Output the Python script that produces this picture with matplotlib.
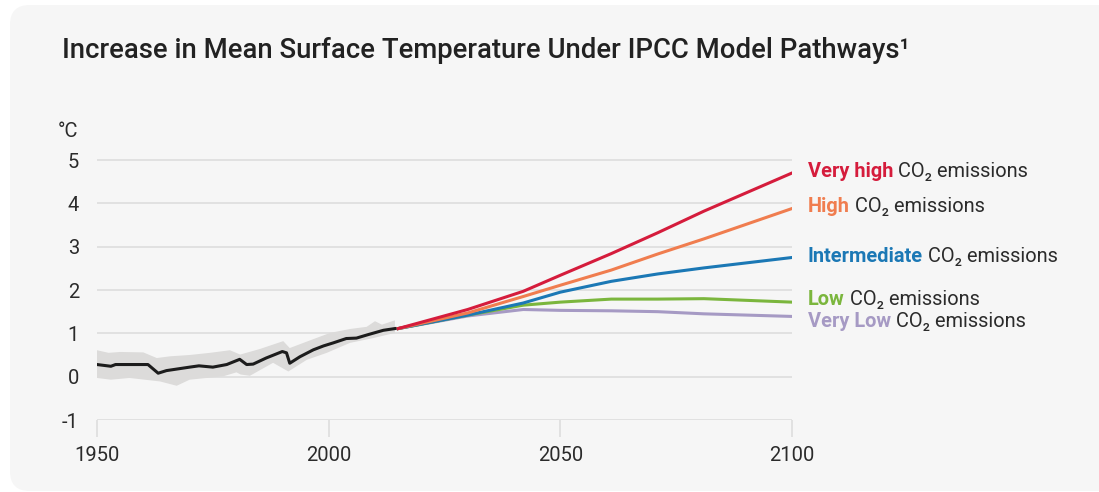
import matplotlib.pyplot as plt
from matplotlib.patches import FancyBboxPatch
import numpy as np

# Observed record (annual mean anomaly, °C)
hist_years = [1950, 1953, 1954, 1961, 1963.2, 1965, 1970, 1972, 1975, 1978,
              1980.8, 1982.3, 1983.7, 1986.5, 1990, 1990.9, 1991.6, 1993.8,
              1996.7, 1998.9, 2001, 2003.8, 2006, 2008.5, 2011.8, 2014.3]
hist_temp = [0.28, 0.24, 0.28, 0.28, 0.08, 0.14, 0.22, 0.25, 0.22, 0.28,
             0.40, 0.28, 0.29, 0.43, 0.58, 0.55, 0.31, 0.46,
             0.62, 0.71, 0.78, 0.88, 0.89, 0.97, 1.07, 1.11]

# Uncertainty envelope around the observed record
band_up_years = [1950, 1952.5, 1955, 1960, 1962.9, 1965.8, 1970, 1974.4, 1978.7,
                 1980.9, 1985.2, 1990.2, 1991.6, 1995.3, 2000.3, 2004.6, 2008.2,
                 2010, 2011.5, 2014.3]
band_up = [0.61, 0.55, 0.57, 0.56, 0.43, 0.47, 0.50, 0.55, 0.61,
           0.51, 0.64, 0.82, 0.66, 0.81, 1.01, 1.10, 1.15,
           1.28, 1.20, 1.30]
band_low_years = [1950, 1953, 1957, 1963.6, 1967.2, 1970, 1977.3, 1980.1, 1981,
                  1983, 1988, 1991.3, 1995.3, 1999.6, 2004.6, 2009.6, 2014.3]
band_low = [-0.03, -0.07, -0.03, -0.11, -0.21, -0.07, 0.01, 0.10, 0.05,
            0.02, 0.32, 0.12, 0.39, 0.55, 0.78, 0.89, 1.01]

# Model pathways
proj_years = [2015, 2030, 2042, 2050, 2061, 2071, 2081, 2100]
very_high = [1.11, 1.55, 1.97, 2.34, 2.84, 3.32, 3.82, 4.70]
high = [1.11, 1.47, 1.85, 2.11, 2.46, 2.83, 3.18, 3.88]
intermediate = [1.11, 1.42, 1.70, 1.95, 2.20, 2.37, 2.51, 2.75]
low = [1.11, 1.42, 1.65, 1.72, 1.79, 1.79, 1.80, 1.72]
very_low = [1.11, 1.40, 1.55, 1.53, 1.52, 1.50, 1.45, 1.39]

scenario_names = ["Very high", "High", "Intermediate", "Low", "Very Low"]
scenario_data = [very_high, high, intermediate, low, very_low]
scenario_colors = ["#d51c3c", "#f07d4f", "#1b78b5", "#7bb63d", "#a69ac4"]
label_y = [4.73, 3.93, 2.77, 1.78, 1.27]

plt.rcParams["font.family"] = ["Roboto", "DejaVu Sans"]
TEXT = "#2b2b2b"

fig = plt.figure(figsize=(10.99, 4.92), dpi=100)
fig.patch.set_facecolor("white")
panel = FancyBboxPatch((10 / 1099, 1 / 492), 1.2, 486 / 492,
                       boxstyle="round,pad=0,rounding_size=0.018",
                       transform=fig.transFigure, facecolor="#f6f6f6",
                       edgecolor="none", mutation_aspect=1099 / 492, zorder=-10)
fig.patches.append(panel)

fig.text(62 / 1099, 1 - 50 / 492, "Increase in Mean Surface Temperature Under IPCC Model Pathways¹",
         fontsize=19.8, fontweight="medium", color="#222222", va="center", ha="left")

# axes: 1950 -> 97px, 2100 -> 792px ; -1 -> 420px, 5 -> 160px
ymax = 5.1
top_px = 160 - (ymax - 5) * 43.33
ax = fig.add_axes([97 / 1099, (492 - 420) / 492, (792 - 97) / 1099, (420 - top_px) / 492])
ax.set_facecolor("none")
ax.set_xlim(1950, 2100)
ax.set_ylim(-1, ymax)

for s in ax.spines.values():
    s.set_visible(False)

grid_c = "#dddddd"
for v in range(-1, 6):
    ax.axhline(v, color=grid_c, lw=1.2, zorder=0)

ax.set_yticks(range(-1, 6))
ax.set_yticklabels(["-1", "0", "1", "2", "3", "4", "5"])
ax.set_xticks([1950, 2000, 2050, 2100])
ax.tick_params(axis="y", length=0, pad=13, labelsize=14.5, labelcolor=TEXT)
ax.tick_params(axis="x", length=12, width=1.2, color=grid_c, pad=7, labelsize=14.5,
               labelcolor=TEXT, direction="out")
ax.text(-0.042, 1.0 + 24 / 264, "°C", transform=ax.transAxes, fontsize=14.5, color=TEXT,
        ha="center", va="center")

ax.fill(np.concatenate([band_up_years, band_low_years[::-1]]),
        np.concatenate([band_up, band_low[::-1]]),
        color="#dcdbda", lw=0, zorder=1)
ax.plot(hist_years, hist_temp, color="#1c1c1c", lw=2.2, zorder=3, solid_joinstyle="round")

for data, c in zip(scenario_data[::-1], scenario_colors[::-1]):
    ax.plot(proj_years, data, color=c, lw=2.2, zorder=2, solid_joinstyle="round")

fig.canvas.draw()
renderer = fig.canvas.get_renderer()
for name, c, yv in zip(scenario_names, scenario_colors, label_y):
    t = ax.text(2103.4, yv, name, color=c, fontsize=14.4, fontweight="bold",
                va="center", ha="left", clip_on=False)
    bb = t.get_window_extent(renderer)
    x_next = ax.transData.inverted().transform((bb.x1 + 5, 0))[0]
    ax.text(x_next, yv, "CO₂ emissions", color=TEXT, fontsize=14.4,
            va="center", ha="left", clip_on=False)

fig.savefig("out.png", dpi=100, facecolor=fig.get_facecolor())
